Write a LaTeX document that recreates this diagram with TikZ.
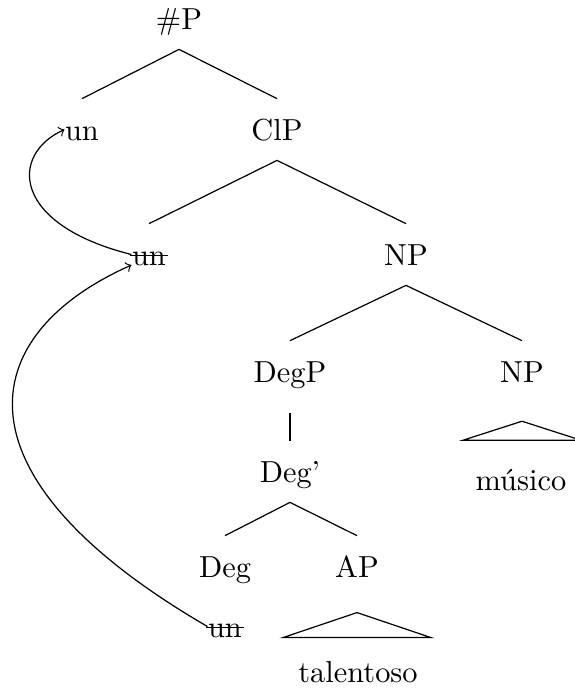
\documentclass[tikz,border=0pt]{standalone}

\newcommand{\strk}[1]{\setbox0\hbox{#1}\rlap{\kern-0.6pt\raisebox{0.65ex}{\rule{\dimexpr\wd0+1.2pt\relax}{0.4pt}}}\box0}

\begin{document}
\begin{tikzpicture}[x=0.3289pt, y=-0.3289pt,
        lbl/.style={anchor=base, inner sep=0pt, text height=13.4pt, text depth=6.5pt},
        leaf/.style={anchor=base, inner sep=0pt}]
    \useasboundingbox (0,0) rectangle (574,694);

    % labels
    \node[lbl] (hashp)  at (179,29)  {\#P};
    \node[lbl] (una)    at (82,140)  {un};
    \node[lbl] (clp)    at (277,140) {ClP};
    \node[lbl] (unb)    at (149,265) {\strk{un}};
    \node[lbl] (npa)    at (406,265) {NP};
    \node[lbl] (degp)   at (290,382) {DegP};
    \node[lbl] (npb)    at (522,382) {NP};
    \node[lbl] (degbar) at (290,482) {Deg'};
    \node[lbl] (deg)    at (225,577) {Deg};
    \node[lbl] (ap)     at (357,577) {AP};
    \node[lbl] (unc)    at (225,637) {\strk{un}};
    \node[leaf] (musico)    at (521,490) {músico};
    \node[leaf] (talentoso) at (358,682) {talentoso};

    % branches
    \foreach \a/\b in {hashp/una, hashp/clp, clp/unb, clp/npa, npa/degp, npa/npb, degbar/deg, degbar/ap} {
        \draw (\a.south) -- (\b.north);
    }
    \draw ([yshift=-3.5pt]degp.south) -- (degbar.north);

    % triangles
    \draw ([yshift=-6.2pt]npb.south) -- +(-59,19) -- +(59,19) -- cycle;
    \draw ([yshift=-5pt]ap.south) -- +(-74,25) -- +(74,25) -- cycle;

    % movement
    \draw[->] (unc.west) .. controls +(-260,-151) and +(-157,70) .. (unb.base west);
    \draw[->] (unb.west) .. controls +(-120,-30) and +(-55,25) .. (una.west);
\end{tikzpicture}
\end{document}
